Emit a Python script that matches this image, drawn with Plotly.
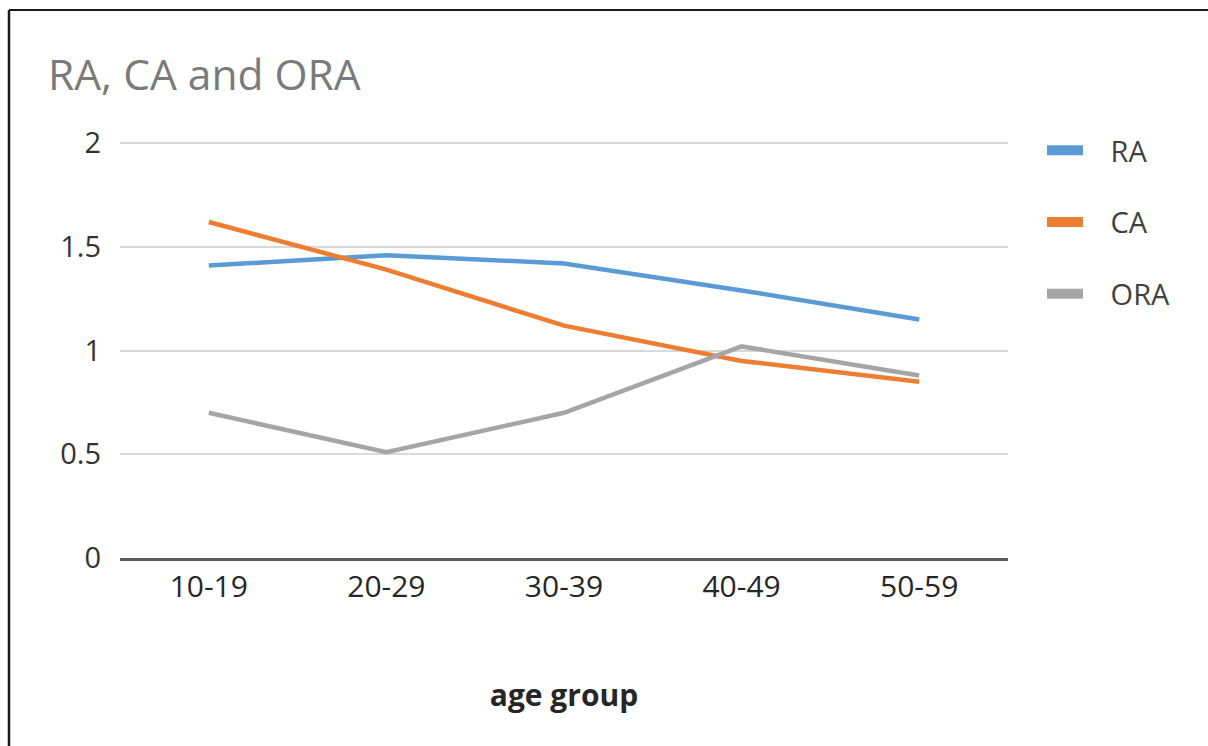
import plotly.graph_objects as go

age_groups = ["10-19", "20-29", "30-39", "40-49", "50-59"]
ra = [1.41, 1.46, 1.42, 1.29, 1.15]
ca = [1.62, 1.39, 1.12, 0.95, 0.85]
ora = [0.70, 0.51, 0.70, 1.02, 0.88]

series = [("RA", ra, "#5B9BD5"), ("CA", ca, "#ED7D31"), ("ORA", ora, "#A5A5A5")]

FONT = "Open Sans"
W, H = 1208, 746
L, R, T, B = 120, 200, 139, 188
PAD = "\u00a0" * 3  # space between legend swatch and label

fig = go.Figure()
for name, vals, color in series:
    fig.add_trace(go.Scatter(
        x=age_groups, y=vals, mode="lines", name=name,
        line=dict(color=color, width=4.5), legendgroup=name, showlegend=False,
    ))
    # thicker swatch for the legend entry
    fig.add_trace(go.Scatter(
        x=[None], y=[None], mode="lines", name=PAD + name,
        line=dict(color=color, width=11), legendgroup=name, showlegend=True,
    ))

pw = W - L - R
ph = H - T - B
# chart frame: top and left edges
fig.add_shape(type="line", xref="paper", yref="paper",
              x0=(9 - L) / pw, x1=(W + 5 - L) / pw,
              y0=(H - B - 10) / ph, y1=(H - B - 10) / ph,
              line=dict(color="#1a1a1a", width=2))
fig.add_shape(type="line", xref="paper", yref="paper",
              x0=(9 - L) / pw, x1=(9 - L) / pw,
              y0=(H - B - 10) / ph, y1=(H - B - H - 5) / ph,
              line=dict(color="#1a1a1a", width=2.5))

fig.update_layout(
    width=W, height=H,
    margin=dict(l=L, r=R, t=T, b=B),
    paper_bgcolor="white", plot_bgcolor="white",
    font=dict(family=FONT, size=29, color="#404040"),
    title=dict(text="RA, CA and ORA", x=48 / W, xanchor="left",
               y=1 - 75 / H, yanchor="middle",
               font=dict(family=FONT, size=42.5, color="#7a7a7a")),
    xaxis=dict(
        type="category", range=[-0.5, 4.5],
        showgrid=False, showline=True, linecolor="#5a5a5a", linewidth=3,
        ticks="", tickfont=dict(size=30, color="#262626"),
        title=dict(text="<b>age group</b>", standoff=80,
                   font=dict(size=30, color="#262626")),
        zeroline=False,
    ),
    yaxis=dict(
        range=[0, 2.02], tickvals=[0, 0.5, 1, 1.5, 2],
        ticktext=["0", "0.5", "1", "1.5", "2"],
        showgrid=True, gridcolor="#d9d9d9", gridwidth=2,
        zeroline=False, showline=False, ticks="",
        ticklabelstandoff=18,
        tickfont=dict(size=29, color="#333333"),
    ),
    legend=dict(
        x=(1042 - L) / pw, xanchor="left", y=(H - B - 125) / ph, yanchor="top",
        font=dict(size=29, color="#404040"),
        tracegroupgap=31, traceorder="grouped",
        itemwidth=36,
        bgcolor="rgba(0,0,0,0)",
    ),
    showlegend=True,
)

fig.write_html("out.html")
